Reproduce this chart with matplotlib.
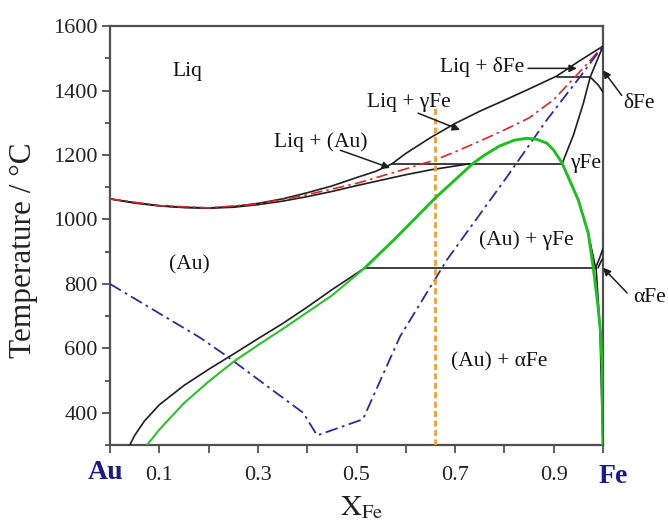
import matplotlib
matplotlib.use("Agg")
import matplotlib.pyplot as plt
from matplotlib.ticker import FixedLocator, NullFormatter, FixedFormatter

plt.rcParams['font.family'] = ['Liberation Serif', 'DejaVu Serif']
plt.rcParams['mathtext.fontset'] = 'stix'

# ---------------- data (x_Fe, T in degC) ----------------
liq_au_x = [0, 0.05, 0.1, 0.15, 0.2, 0.25, 0.3, 0.35, 0.4, 0.45, 0.5, 0.54, 0.572]
liq_au_T = [1064, 1052, 1043, 1038, 1036, 1040, 1050, 1064, 1083, 1104, 1130, 1150, 1173]

sol_au_x = [0, 0.05, 0.1, 0.15, 0.2, 0.25, 0.3, 0.35, 0.4, 0.45, 0.5, 0.55, 0.6, 0.65, 0.7, 0.73]
sol_au_T = [1064, 1051, 1042, 1037, 1035, 1038, 1046, 1057, 1071, 1087, 1105, 1122, 1139, 1154, 1166, 1173]

liq_fe_x = [0.572, 0.6, 0.65, 0.7, 0.75, 0.8, 0.85, 0.906, 0.95, 1.0]
liq_fe_T = [1173, 1205, 1254, 1298, 1336, 1370, 1405, 1445, 1490, 1538]

gsol_x = [0.917, 0.94, 0.96, 0.974]
gsol_T = [1173, 1262, 1360, 1442]

delta_up_x = [0.974, 1.0]
delta_up_T = [1442, 1538]
delta_lo_x = [0.974, 0.99, 0.998, 1.0]
delta_lo_T = [1442, 1418, 1400, 1396]

peri_g_x = [0.572, 0.917]
peri_g_T = [1173, 1173]
peri_d_x = [0.906, 0.974]
peri_d_T = [1442, 1442]
eutec_x = [0.517, 0.985]
eutec_T = [850, 850]

gsolv_x = [0.917, 0.93, 0.95, 0.97, 0.985]
gsolv_T = [1173, 1130, 1060, 958, 850]
ga_x = [0.985, 0.993, 1.0]
ga_T = [850, 880, 910]
ga2_x = [0.99, 0.996, 1.0]
ga2_T = [850, 870, 880]
asolv_x = [0.986, 0.994, 0.998, 1.0]
asolv_T = [850, 657, 388, 300]

ausolv_x = [0.04, 0.05, 0.07, 0.1, 0.15, 0.2, 0.25, 0.3, 0.35, 0.4, 0.45, 0.517]
ausolv_T = [300, 330, 375, 425, 485, 535, 582, 630, 677, 728, 782, 850]

green_x = [0.075, 0.1, 0.15, 0.2, 0.25, 0.3, 0.35, 0.4, 0.45, 0.517, 0.578, 0.66,
           0.737, 0.76, 0.79, 0.82, 0.845, 0.865, 0.886, 0.9, 0.917, 0.93, 0.95, 0.97,
           0.98, 0.99, 0.995, 0.998, 1.0]
green_T = [300, 348, 430, 497, 558, 610, 660, 712, 764, 850, 940, 1067,
           1175, 1200, 1228, 1246, 1252, 1249, 1237, 1215, 1175, 1130, 1060, 958,
           853, 729, 650, 555, 300]

red_x = [0, 0.1, 0.2, 0.3, 0.4, 0.5, 0.6, 0.66, 0.7, 0.75, 0.8, 0.85, 0.9, 0.943, 0.97, 1.0]
red_T = [1064, 1043, 1036, 1048, 1077, 1112, 1157, 1185, 1210, 1243, 1278, 1315, 1372, 1442, 1487, 1538]

blue_x = [0, 0.183, 0.235, 0.3, 0.392, 0.42, 0.513, 0.588, 0.683, 0.805, 0.886, 0.953, 1.0]
blue_T = [800, 633, 578, 504, 400, 330, 380, 636, 874, 1132, 1309, 1442, 1538]

orange_x = [0.66, 0.66]
orange_T = [300, 1350]

xtick_pos = [0.1, 0.3, 0.5, 0.7, 0.9]
xtick_lab = ['0.1', '0.3', '0.5', '0.7', '0.9']
xminor_pos = [0.0, 0.2, 0.4, 0.6, 0.8, 1.0]
ytick_pos = [400, 600, 800, 1000, 1200, 1400, 1600]
yminor_pos = [300, 500, 700, 900, 1100, 1300, 1500]

labels = [
    ("Liq", 0.157, 1458),
    ("Liq + \u03b4Fe", 0.755, 1473),
    ("Liq + \u03b3Fe", 0.607, 1364),
    ("Liq + (Au)", 0.428, 1240),
    ("(Au)", 0.16, 859),
    ("(Au) + \u03b3Fe", 0.845, 936),
    ("(Au) + \u03b1Fe", 0.79, 558),
]

# ---------------- figure ----------------
fig = plt.figure(figsize=(6.68, 5.23), dpi=100)
ax = fig.add_axes([0.1647, 0.149, 0.738, 0.801])
ax.set_xlim(0, 1)
ax.set_ylim(300, 1600)

blk = '#1e1e1e'
lwb = 1.2
for xs, ts in [(liq_au_x, liq_au_T), (sol_au_x, sol_au_T), (liq_fe_x, liq_fe_T),
               (gsol_x, gsol_T), (delta_up_x, delta_up_T), (delta_lo_x, delta_lo_T),
               (peri_g_x, peri_g_T), (peri_d_x, peri_d_T), (eutec_x, eutec_T),
               (gsolv_x, gsolv_T), (ga_x, ga_T), (ga2_x, ga2_T), (asolv_x, asolv_T),
               (ausolv_x, ausolv_T)]:
    ax.plot(xs, ts, color=blk, lw=lwb, solid_capstyle='round', solid_joinstyle='round', zorder=3)

ax.plot(red_x, red_T, color='#d42a2a', lw=1.2, dashes=(7, 2.5, 1.5, 2.5), zorder=4)
ax.plot(blue_x, blue_T, color='#2b2b9c', lw=1.3, dashes=(7, 2.5, 1.5, 2.5), zorder=4)
ax.plot(orange_x, orange_T, color='#f0a030', lw=2.0, dashes=(2.2, 1.2), zorder=4)

# green: thinner on low-x branch, thicker elsewhere
k = green_x.index(0.517)
ax.plot(green_x[:k + 1], green_T[:k + 1], color='#2ec02e', lw=1.5, zorder=5,
        solid_joinstyle='round')
ax.plot(green_x[k:], green_T[k:], color='#1fbf1f', lw=2.1, zorder=5,
        solid_joinstyle='round')

fs = 15.5
for s, x, y in labels:
    ax.text(x, y, s, fontsize=fs, ha='center', va='center', color='#111111', zorder=6)
ax.text(0.933, 1175, "\u03b3Fe", fontsize=fs, ha='left', va='center', color='#111111', zorder=6)
ax.text(1.073, 1360, "\u03b4Fe", fontsize=fs, ha='center', va='center', color='#111111', clip_on=False)
ax.text(1.094, 757, "\u03b1Fe", fontsize=fs, ha='center', va='center', color='#111111', clip_on=False)

aprops = dict(arrowstyle='-|>', color='#1e1e1e', lw=1.1, mutation_scale=11, shrinkA=0, shrinkB=0)
arrows = [((0.848, 1469), (0.947, 1469)),
          ((0.625, 1330), (0.71, 1278)),
          ((0.467, 1215), (0.568, 1160)),
          ((1.038, 1385), (1.0, 1463)),
          ((1.049, 772), (1.0, 850))]
for (x0, y0), (x1, y1) in arrows:
    ax.annotate('', xy=(x1, y1), xytext=(x0, y0), arrowprops=aprops, annotation_clip=False, zorder=6)

# ticks
ax.xaxis.set_major_locator(FixedLocator(xtick_pos))
ax.xaxis.set_major_formatter(FixedFormatter(xtick_lab))
ax.xaxis.set_minor_locator(FixedLocator(xminor_pos))
ax.xaxis.set_minor_formatter(NullFormatter())
ax.yaxis.set_major_locator(FixedLocator(ytick_pos))
ax.yaxis.set_minor_locator(FixedLocator(yminor_pos))
ax.tick_params(axis='both', which='major', direction='out', length=6, width=1.3,
               color='#505050', labelsize=16, labelcolor='#222222')
ax.tick_params(axis='x', which='minor', direction='out', length=6, width=1.3, color='#505050')
ax.tick_params(axis='y', which='minor', direction='out', length=3.5, width=1.3, color='#505050')
ax.tick_params(axis='x', which='major', pad=9)
ax.tick_params(axis='y', which='major', pad=3)
for sp in ax.spines.values():
    sp.set_color('#505050')
    sp.set_linewidth(1.6)

ax.set_ylabel("Temperature / \u00b0C", fontsize=22.5, color='#222222')
ax.yaxis.set_label_coords(-0.146, 0.465)
fig.text(0.542, 0.03, r'$\mathrm{X}_{\mathrm{Fe}}$', fontsize=21, ha='center', va='center', color='#222222')
ax.text(-0.01, 214, "Au", fontsize=20, fontweight='bold', color='#1a1a88', ha='center', va='center', clip_on=False)
ax.text(1.02, 202, "Fe", fontsize=20, fontweight='bold', color='#1a1a88', ha='center', va='center', clip_on=False)

fig.savefig("out.png", dpi=100)
